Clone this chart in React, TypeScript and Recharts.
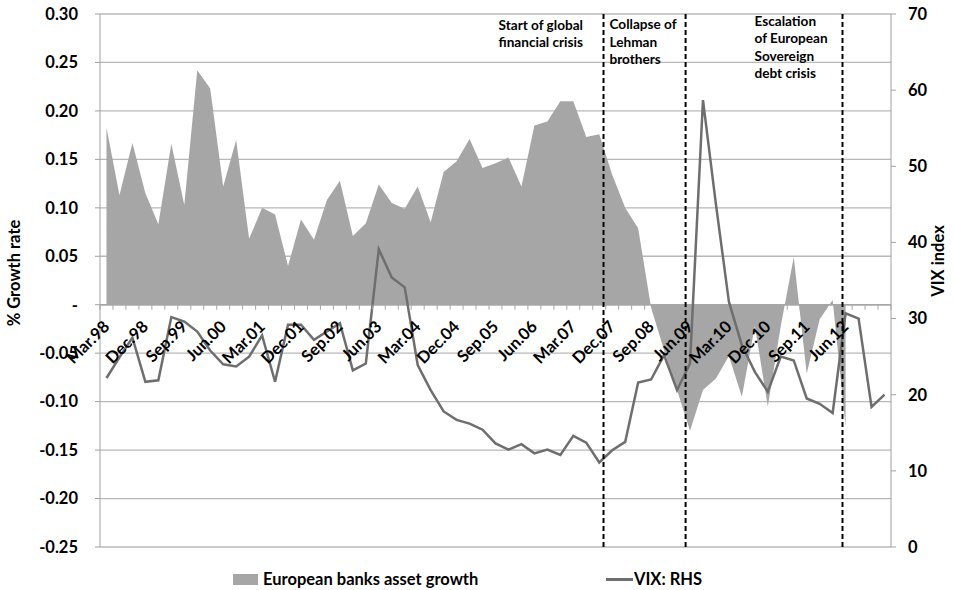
import React from "react";
import { ComposedChart, Area, Line, XAxis, YAxis, CartesianGrid, ReferenceLine } from "recharts";

// quarterly observations, Mar.98 .. Mar.13
const quarters = [
  "Mar.98", "Jun.98", "Sep.98", "Dec.98", "Mar.99", "Jun.99", "Sep.99", "Dec.99",
  "Mar.00", "Jun.00", "Sep.00", "Dec.00", "Mar.01", "Jun.01", "Sep.01", "Dec.01",
  "Mar.02", "Jun.02", "Sep.02", "Dec.02", "Mar.03", "Jun.03", "Sep.03", "Dec.03",
  "Mar.04", "Jun.04", "Sep.04", "Dec.04", "Mar.05", "Jun.05", "Sep.05", "Dec.05",
  "Mar.06", "Jun.06", "Sep.06", "Dec.06", "Mar.07", "Jun.07", "Sep.07", "Dec.07",
  "Mar.08", "Jun.08", "Sep.08", "Dec.08", "Mar.09", "Jun.09", "Sep.09", "Dec.09",
  "Mar.10", "Jun.10", "Sep.10", "Dec.10", "Mar.11", "Jun.11", "Sep.11", "Dec.11",
  "Mar.12", "Jun.12", "Sep.12", "Dec.12", "Mar.13",
];

// the category labels that are printed on the axis
const tickLabels = [
  "Mar.98", "Dec.98", "Sep.99", "Jun.00", "Mar.01", "Dec.01", "Sep.02", "Jun.03", "Mar.04", "Dec.04",
  "Sep.05", "Jun.06", "Mar.07", "Dec.07", "Sep.08", "Jun.09", "Mar.10", "Dec.10", "Sep.11", "Jun.12",
];

const assetGrowth = [
  0.183, 0.113, 0.167, 0.115, 0.083, 0.166, 0.103, 0.242,
  0.223, 0.122, 0.170, 0.068, 0.100, 0.093, 0.040, 0.088,
  0.067, 0.108, 0.128, 0.071, 0.084, 0.124, 0.105, 0.099,
  0.122, 0.085, 0.137, 0.148, 0.171, 0.141, 0.146, 0.152,
  0.122, 0.185, 0.189, 0.210, 0.210, 0.173, 0.176, 0.134,
  0.100, 0.079, -0.003, -0.047, -0.088, -0.130, -0.088, -0.076,
  -0.053, -0.095, -0.022, -0.105, -0.022, 0.049, -0.071, -0.015,
  0.005, -0.126, null, null, null,
];

const vix = [
  22.2, 24.9, 27.5, 21.7, 21.9, 30.2, 29.6, 28.3,
  25.8, 24.0, 23.7, 25.0, 27.8, 21.7, 29.2, 29.2,
  27.2, 28.3, 29.4, 23.2, 24.1, 39.1, 35.4, 34.1,
  23.9, 20.6, 17.8, 16.7, 16.2, 15.4, 13.6, 12.8,
  13.5, 12.3, 12.8, 12.1, 14.6, 13.7, 11.1, 12.7,
  13.8, 21.6, 22.0, 25.2, 20.6, 24.1, 58.7, 45.0,
  32.2, 26.5, 23.0, 20.4, 25.0, 24.5, 19.5, 18.8,
  17.6, 30.7, 30.0, 18.4, 20.0,
];

const leftTicks = [-0.25, -0.2, -0.15, -0.1, -0.05, 0, 0.05, 0.1, 0.15, 0.2, 0.25, 0.3];
const rightTicks = [0, 10, 20, 30, 40, 50, 60, 70];

// event markers (in quarter units, drawn between observations)
const events = [38.33, 44.66, 56.76];

const rows = quarters.map((q, i) => ({ i, q, growth: assetGrowth[i], vix: vix[i] }));

const FONT = "Lato, 'Open Sans', sans-serif";
const TOP = 14;
const PLOT_H = 533;
const ZERO_Y = TOP + (0.3 / 0.55) * PLOT_H;
const BAND = 791 / quarters.length;

function XTick(props: any) {
  const { x, payload } = props;
  const i = payload.value;
  const name = quarters[i];
  const showLabel = tickLabels.includes(name);
  const lx = x + 4;
  const ly = ZERO_Y + 23;
  return (
    <g>
      <line x1={x - BAND / 2} x2={x - BAND / 2} y1={ZERO_Y} y2={ZERO_Y + 5} stroke="#a6a6a6" />
      {i === quarters.length - 1 && (
        <line x1={x + BAND / 2} x2={x + BAND / 2} y1={ZERO_Y} y2={ZERO_Y + 5} stroke="#a6a6a6" />
      )}
      {showLabel && (
        <text
          x={lx}
          y={ly}
          transform={`rotate(-45, ${lx}, ${ly})`}
          textAnchor="end"
          fontFamily={FONT}
          fontWeight={700}
          fontSize={16.5}
          fill="#000"
        >
          {name}
        </text>
      )}
    </g>
  );
}

function EventNotes(props: any) {
  const { viewBox, notes } = props;
  return (
    <g>
      {notes.map((n: any, k: number) => (
        <text key={k} fontFamily={FONT} fontWeight={700} fontSize={13.6} fill="#000">
          {n.lines.map((l: string, j: number) => (
            <tspan key={j} x={viewBox.x + n.dx} y={n.y0 + j * 17.5}>
              {l}
            </tspan>
          ))}
        </text>
      ))}
    </g>
  );
}

const legendText = { fontFamily: FONT, fontWeight: 700, fontSize: 16.5, whiteSpace: "nowrap" as const };

export default function App() {
  return (
    <div style={{ position: "absolute", left: 0, top: 0, width: 955, height: 590, background: "#fff" }}>
      <ComposedChart width={955} height={590} data={rows} margin={{ top: TOP, right: 0, bottom: 0, left: 0 }}>
        <CartesianGrid yAxisId="left" vertical={false} stroke="#b8b8b8" strokeWidth={1.3} />
        <XAxis
          type="number"
          dataKey="i"
          domain={[-0.5, quarters.length - 0.5]}
          ticks={rows.map((r) => r.i)}
          interval={0}
          height={43}
          axisLine={false}
          tickLine={false}
          tick={<XTick />}
        />
        <YAxis
          yAxisId="left"
          width={100}
          domain={[-0.25, 0.3]}
          ticks={leftTicks}
          interval={0}
          tickFormatter={(v: number) => (Math.abs(v) < 1e-9 ? "-" : v.toFixed(2))}
          tick={{ fill: "#000", fontSize: 16.5, fontWeight: 700, fontFamily: FONT }}
          tickSize={5}
          tickMargin={17}
          axisLine={{ stroke: "#a0a0a0" }}
          tickLine={{ stroke: "#a0a0a0" }}
          label={() => (
            <text
              x={20}
              y={273}
              transform="rotate(-90, 20, 273)"
              textAnchor="middle"
              fontFamily={FONT}
              fontWeight={700}
              fontSize={16.5}
              fill="#000"
            >
              % Growth rate
            </text>
          )}
        />
        <YAxis
          yAxisId="right"
          orientation="right"
          width={64}
          domain={[0, 70]}
          ticks={rightTicks}
          interval={0}
          tick={{ fill: "#000", fontSize: 16.5, fontWeight: 700, fontFamily: FONT, textAnchor: "start" }}
          tickSize={5}
          tickMargin={12}
          axisLine={{ stroke: "#a0a0a0" }}
          tickLine={{ stroke: "#a0a0a0" }}
          label={() => (
            <text
              x={944}
              y={261}
              transform="rotate(-90, 944, 261)"
              textAnchor="middle"
              fontFamily={FONT}
              fontWeight={700}
              fontSize={16.5}
              fill="#000"
            >
              VIX index
            </text>
          )}
        />
        <ReferenceLine yAxisId="left" y={0} stroke="#a6a6a6" strokeWidth={1.3} />
        <Area
          yAxisId="left"
          type="linear"
          dataKey="growth"
          baseValue={0}
          stroke="none"
          fill="#a6a6a6"
          fillOpacity={1}
          isAnimationActive={false}
        />
        <Line
          yAxisId="right"
          type="linear"
          dataKey="vix"
          stroke="#6e6e6e"
          strokeWidth={2.5}
          dot={false}
          isAnimationActive={false}
        />
        <ReferenceLine
          yAxisId="left"
          x={events[0]}
          stroke="#000"
          strokeWidth={2}
          strokeDasharray="5 3"
          label={
            <EventNotes
              notes={[
                { dx: -105, y0: 29.5, lines: ["Start of global", "financial crisis"] },
                { dx: 6, y0: 29, lines: ["Collapse of", "Lehman", "brothers"] },
              ]}
            />
          }
        />
        <ReferenceLine yAxisId="left" x={events[1]} stroke="#000" strokeWidth={2} strokeDasharray="5 3" />
        <ReferenceLine
          yAxisId="left"
          x={events[2]}
          stroke="#000"
          strokeWidth={2}
          strokeDasharray="5 3"
          label={
            <EventNotes
              notes={[{ dx: -88, y0: 25.5, lines: ["Escalation", "of European", "Sovereign", "debt  crisis"] }]}
            />
          }
        />
      </ComposedChart>
      <div style={{ position: "absolute", top: 569, left: 233, display: "flex", alignItems: "center" }}>
        <span style={{ display: "inline-block", width: 25, height: 11, background: "#a6a6a6", marginRight: 5 }} />
        <span style={legendText}>European banks asset growth</span>
      </div>
      <div style={{ position: "absolute", top: 569, left: 606, display: "flex", alignItems: "center" }}>
        <span style={{ display: "inline-block", width: 27, height: 3, background: "#6e6e6e", marginRight: 1 }} />
        <span style={legendText}>VIX: RHS</span>
      </div>
    </div>
  );
}
